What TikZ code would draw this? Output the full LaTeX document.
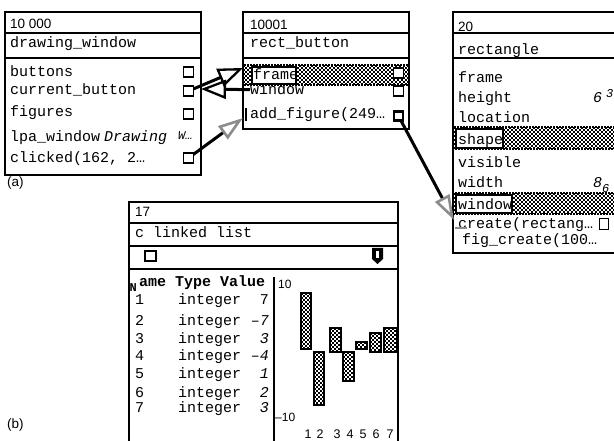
\documentclass[tikz,border=0pt]{standalone}
\usepackage{fontspec}
\setmainfont{Liberation Sans}
\newfontfamily\monof{Liberation Mono}
\usetikzlibrary{arrows.meta}
\definecolor{agray}{RGB}{140,140,140}
% checker fill: #1,#2 top-left  #3,#4 bottom-right  #5 cols  #6 rows
\newcommand{\chkfill}[6]{%
  \begin{scope}
    \clip (#1,#2) rectangle (#3,#4);
    \fill[white] (#1,#2) rectangle (#3,#4);
    \foreach \ci in {0,...,#5}{\foreach \cj in {0,...,#6}{%
      \fill[black] (#1+4*\ci,#2+4*\cj) rectangle ++(2,2);
      \fill[black] (#1+4*\ci+2,#2+4*\cj+2) rectangle ++(2,2);}}
  \end{scope}}
\tikzset{
  frm/.style={line width=2.2pt},
  sep/.style={line width=2pt},
  sepb/.style={line width=2.6pt},
  mt/.style={anchor=base west, inner sep=0pt, font=\monof\fontsize{15}{16}\selectfont},
  mti/.style={anchor=base west, inner sep=0pt, font=\monof\itshape\fontsize{15}{16}\selectfont},
  mtb/.style={anchor=base west, inner sep=0pt, font=\monof\bfseries\fontsize{15}{16}\selectfont},
  st/.style={anchor=base west, inner sep=0pt, font=\fontsize{13.5}{14}\selectfont},
  sts/.style={anchor=base, inner sep=0pt, font=\fontsize{12.5}{13}\selectfont},
  sq/.style={draw, line width=1.8pt, minimum width=10pt, minimum height=10pt, inner sep=0pt, fill=white},
  bandedge/.style={draw, dash pattern=on 2pt off 1pt, line width=1.5pt},
  lblbox/.style={draw, line width=1.6pt, fill=white},
  baredge/.style={draw, line width=2.2pt},
  bk/.style={line width=3pt, -{Triangle[open,length=25pt,width=19pt,line width=2.3pt]}},
  gy/.style={line width=3pt, -{Triangle[open,length=25pt,width=16pt,line width=2.6pt,color=agray]}}
}
\begin{document}
\begin{tikzpicture}[x=1pt,y=-1pt]
\clip (0,0) rectangle (614,441);
\fill[white] (0,0) rectangle (614,441);

% ---------- box 1 : drawing_window ----------
\draw[frm] (5,12) rectangle (201,175);
\draw[sep] (5,33) -- (201,33);
\draw[sepb] (5,58) -- (201,58);
\node[st] (b1id) at (10,29) {10 000};
\node[mt] (b1name) at (10,48) {drawing\_window};
\node[mt] (tButtons) at (10,77) {buttons};
\node[mt] (tCurrent) at (10,95) {current\_button};
\node[mt] (tFigures) at (10,117) {figures};
\node[mt] (tLpa) at (10,142) {lpa\_window};
\node[mti] (tDrawing) at (104,142) {Drawing};
\node[mti,font=\monof\itshape\fontsize{12}{12}\selectfont] (tW) at (178,140) {W…};
\node[mt] (tClicked) at (10,163) {clicked(162, 2…};
\node[st] (la) at (7,187) {(a)};

% ---------- box 2 : rect_button ----------
\chkfill{243}{65}{409}{85}{42}{5}
\draw[bandedge] (243,65) rectangle (409,85);
\draw[frm] (243,12) rectangle (409,129);
\draw[sep] (243,33) -- (409,33);
\draw[sepb] (243,58) -- (409,58);
\node[st] (b2id) at (250,30) {10001};
\node[mt] (b2name) at (250,48) {rect\_button};
\draw[lblbox] (252,67) rectangle (296,84);
\node[mt] (tFrame) at (253,80) {frame};
\node[mt] (tWindow) at (250,95) {window};
\node[mt] (tAdd) at (250,119) {add\_figure(249…};

% ---------- box 3 : rectangle ----------
\chkfill{453}{127}{620}{149}{42}{6}
\draw[bandedge] (453,127) rectangle (620,149);
\chkfill{453}{193}{620}{214}{42}{6}
\draw[bandedge] (453,193) rectangle (620,214);
\draw[frm] (453,12) rectangle (620,253);
\draw[sep] (453,33) -- (620,33);
\draw[sepb] (453,58) -- (620,58);
\node[st] (b3id) at (458,32) {20};
\node[mt] (b3name) at (458,55) {rectangle};
\node[mt] (tFrame3) at (458,83) {frame};
\node[mt] (tHeight) at (458,103) {height};
\node[mt] (tLocation) at (458,123) {location};
\draw[lblbox] (456,129) rectangle (503,148);
\node[mt] (tShape) at (458,145) {shape};
\node[mt] (tVisible) at (458,168) {visible};
\node[mt] (tWidth) at (458,188) {width};
\draw[lblbox] (456,195) rectangle (512,213);
\node[mt] (tWin3) at (458,210) {window};
\node[mt] (tCreate) at (458,229) {create(rectang…};
\node[mt] (tFig) at (462,244) {fig\_create(100…};
\node[mti] (v6) at (593,103) {6};
\node[mti,font=\monof\itshape\fontsize{12}{12}\selectfont] (v3) at (606,98) {3};
\node[mti] (v8) at (593,188) {8};
\node[mti,font=\monof\itshape\fontsize{12}{12}\selectfont] (v6b) at (602,193) {6};

% ---------- box 4 : c linked list ----------
\draw[frm] (129,202) rectangle (398,460);
\draw[sep] (129,223) -- (398,223);
\draw[sep] (129,246) -- (398,246);
\draw[sepb] (129,269) -- (398,269);
\draw[line width=2pt] (274,277) -- (274,460);
\node[st] (b4id) at (135,217) {17};
\node[mt] (b4name) at (135,238) {c linked list};
\node[sq, minimum width=11pt, minimum height=10pt] (sqList) at (150.5,256) {};
\fill[black] (372,248) -- (383,248) -- (383,259) -- (377.5,264) -- (372,259) -- cycle;
\fill[white] (376.3,251) rectangle (378.7,258);
\node[mtb,font=\monof\bfseries\fontsize{12}{12}\selectfont] (hN) at (129.5,291) {N};
\node[mtb] (hRest) at (139,287) {ame Type Value};
\foreach \n/\yy in {1/305,2/325,3/343,4/360,5/378,6/397,7/412}{
  \node[mt] (num\n) at (135,\yy) {\n};
  \node[mt] (typ\n) at (178,\yy) {integer};
}
\node[mt,anchor=base east] (val1) at (269,305) {7};
\node[mti,anchor=base east] (val2) at (269,325) {–7};
\node[mti,anchor=base east] (val3) at (269,343) {3};
\node[mti,anchor=base east] (val4) at (269,360) {–4};
\node[mti,anchor=base east] (val5) at (269,378) {1};
\node[mti,anchor=base east] (val6) at (269,397) {2};
\node[mti,anchor=base east] (val7) at (269,412) {3};
% chart
\node[st,font=\fontsize{12}{12}\selectfont] (ax10) at (278,289) {10};
\node[st,font=\fontsize{12}{12}\selectfont] (axm10) at (275,421) {–10};
\chkfill{301}{293}{311}{349}{3}{14}
\draw[baredge] (301,293) rectangle (311,349);
\chkfill{314}{352}{324}{405}{3}{14}
\draw[baredge] (314,352) rectangle (324,405);
\chkfill{330}{328}{341}{352}{3}{6}
\draw[baredge] (330,328) rectangle (341,352);
\chkfill{343}{352}{354}{381}{3}{8}
\draw[baredge] (343,352) rectangle (354,381);
\chkfill{356}{342}{367}{349}{3}{2}
\draw[baredge] (356,342) rectangle (367,349);
\chkfill{370}{333}{381}{352}{3}{5}
\draw[baredge] (370,333) rectangle (381,352);
\chkfill{384}{328}{397}{352}{4}{6}
\draw[baredge] (384,328) rectangle (397,352);
\foreach \i/\xx in {1/308,2/320,3/337,4/350,5/363,6/376,7/390}{
  \node[sts] (xl\i) at (\xx,438) {\i};
}
\node[st] (lb) at (7,428) {(b)};

% ---------- connectors ----------
\coordinate (inFrame) at (243,68);
\coordinate (inB1) at (201,89);
\coordinate (inAdd) at (243,118);
\coordinate (inCreate) at (454,220);
\node[sq] (sqCurrent) at (188.5,91) {};
\node[sq] (sqClicked) at (188.5,158) {};
\node[sq] (sqAdd) at (398.5,116) {};
\draw[bk] (sqCurrent.center) -- (inFrame);
\draw[bk] (tWindow.west) -- (inB1);
\draw[gy] (sqClicked.center) -- (inAdd);
\draw[gy] (sqAdd.center) -- (inCreate);
\draw[line width=2.5pt] (246,108) -- (246,121);
\draw[agray, line width=2.5pt] (455,228) -- (467,228);

% ---------- slot squares ----------
\node[sq] (sqButtons) at (188.5,72) {};
\node[sq] (sqCurrentB) at (188.5,91) {};
\node[sq] (sqFigures) at (188.5,114) {};
\node[sq] (sqClickedB) at (188.5,158) {};
\node[sq] (sqFrame) at (398.5,73) {};
\node[sq] (sqWindow) at (398.5,91) {};
\node[sq, minimum width=8pt, minimum height=8pt, line width=1.6pt] (sqAddB) at (398.5,116) {};
\node[sq, minimum width=9pt, minimum height=11pt] (sqCreate) at (604,224) {};
\end{tikzpicture}
\end{document}
